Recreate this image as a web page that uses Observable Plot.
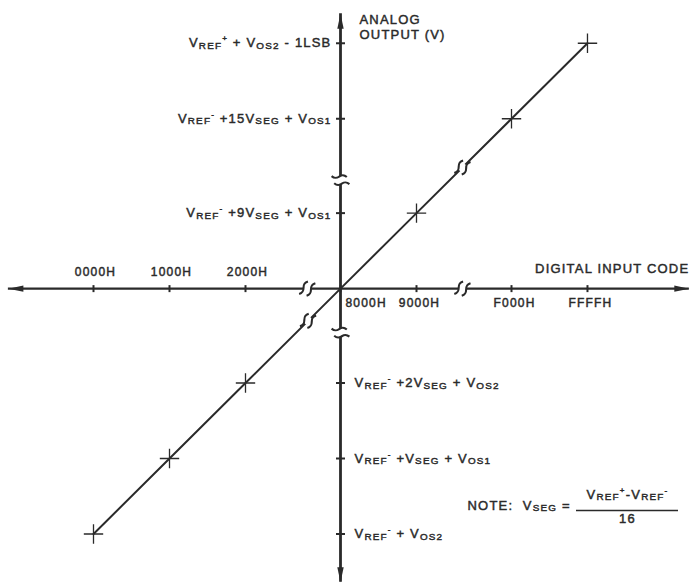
<!DOCTYPE html>
<html>
<head>
<meta charset="utf-8">
<script src="https://cdn.jsdelivr.net/npm/d3@7"></script>
<script src="https://cdn.jsdelivr.net/npm/@observablehq/plot@0.6"></script>
<style>
  html, body { margin: 0; padding: 0; background: #fff; }
  #chart svg { display: block; }
  #chart svg text { letter-spacing: 1.2px; stroke: #2a2a2a; stroke-width: 0.45px; }
</style>
</head>
<body>
<div id="chart"></div>
<script>
// Digital input codes and the analog output they produce,
// counted in V_SEG steps above V_REF- (FFFFH sits one LSB below 16 steps).
const codeLabels  = ["0000H", "1000H", "2000H", "8000H", "9000H", "F000H", "FFFFH"];
const codeValues  = [0x0000, 0x1000, 0x2000, 0x8000, 0x9000, 0xF000, 0xFFFF];
const outputSteps = [0, 1, 2, 8, 9, 15, 16 - 1 / 4096];

// Output levels called out on the vertical axis
const levelSteps  = [0, 1, 2, 9, 15, 16 - 1 / 4096];
const levelLabels = [
  "V_{REF}^{-} + V_{OS2}",
  "V_{REF}^{-} +V_{SEG} + V_{OS1}",
  "V_{REF}^{-} +2V_{SEG} + V_{OS2}",
  "V_{REF}^{-} +9V_{SEG} + V_{OS1}",
  "V_{REF}^{-} +15V_{SEG} + V_{OS1}",
  "V_{REF}^{+} + V_{OS2} - 1LSB"
];

// The axes cross at code 8000H, output V_REF- + 8 V_SEG
const crossing = 8;
// Where the axis and line break symbols sit (in steps)
const axisBreaksX = [5.9, 11.9];
const axisBreaksY = [5.2, 11.1];
const lineBreaks  = [5.95, 11.9];
// Axis extents (arrow tips)
const xEnds = [-1.12, 17.34];
const yEnds = [-0.64, 16.39];

const ink = "#2a2a2a";
const font = "'Liberation Sans', Arial, Helvetica, sans-serif";

// Broken scales: the spans 2..8 and 9..15 are squeezed to 1.25 steps each
const gap = 1.25;
const stops = [0, 2, 8, 9, 15, 16];
const span = [0, 2, 2 + gap, 3 + gap, 3 + 2 * gap, 4 + 2 * gap];
const unitX = 76, unitY = 75.5, originX = 93, originY = 533.5;

const series = codeValues.map((c, i) => ({code: codeLabels[i], step: c / 0x1000, out: outputSteps[i]}));
const levels = levelSteps.map((s, i) => ({step: s, label: levelLabels[i]}));

// Symbols drawn with a rotation (radians)
function rotor(angle) {
  const c = Math.cos(angle), s = Math.sin(angle);
  return (u, v) => [u * c - v * s, u * s + v * c];
}
const arrowHead = angle => ({
  draw(ctx) {
    const p = rotor(angle);
    ctx.moveTo(...p(0, 0));
    ctx.lineTo(...p(-15, 3.2));
    ctx.lineTo(...p(-15, -3.2));
    ctx.closePath();
  }
});
const breakMark = angle => ({
  draw(ctx) {
    const p = rotor(angle);
    for (const o of [-3.8, 3.8]) {
      ctx.moveTo(...p(o - 3, 7));
      ctx.bezierCurveTo(...p(o + 5, 2.5), ...p(o - 5, -2.5), ...p(o + 3, -7));
    }
  }
});
const tickMark = vertical => ({
  draw(ctx) {
    if (vertical) { ctx.moveTo(0, -3.5); ctx.lineTo(0, 3.5); }
    else { ctx.moveTo(-4.5, 0); ctx.lineTo(4.5, 0); }
  }
});

const deg = Math.PI / 180;

const chart = Plot.plot({
  width: 691,
  height: 587,
  margin: 0,
  x: {type: "linear", domain: stops, range: span.map(s => originX + s * unitX), axis: null},
  y: {type: "linear", domain: stops, range: span.map(s => originY - s * unitY), axis: null},
  style: {fontFamily: font, background: "#fff", color: ink, overflow: "visible"},
  marks: [
    // axes
    Plot.ruleY([crossing], {x1: xEnds[0], x2: xEnds[1], stroke: ink, strokeWidth: 2.3}),
    Plot.ruleX([crossing], {y1: yEnds[0], y2: yEnds[1], stroke: ink, strokeWidth: 2.8}),
    // transfer line
    Plot.line(series, {x: "step", y: "out", stroke: ink, strokeWidth: 2}),
    // breaks: a white gap, then the S strokes
    Plot.dot(axisBreaksX, {x: d => d, y: crossing, r: 4, fill: "#fff"}),
    Plot.dot(axisBreaksY, {x: crossing, y: d => d, r: 4, fill: "#fff"}),
    Plot.dot(lineBreaks, {x: d => d, y: d => d, r: 4, fill: "#fff"}),
    Plot.dot(axisBreaksX, {x: d => d, y: crossing, symbol: breakMark(12 * deg), fill: "none", stroke: ink, strokeWidth: 2.1}),
    Plot.dot(axisBreaksY, {x: crossing, y: d => d, symbol: breakMark(70 * deg), fill: "none", stroke: ink, strokeWidth: 2.1}),
    Plot.dot(lineBreaks, {x: d => d, y: d => d, symbol: breakMark(12 * deg), fill: "none", stroke: ink, strokeWidth: 2.1}),
    // axis ticks
    Plot.dot(series, {x: "step", y: crossing, symbol: tickMark(true), fill: "none", stroke: ink, strokeWidth: 2}),
    Plot.dot(levels, {x: crossing, y: "step", symbol: tickMark(false), fill: "none", stroke: ink, strokeWidth: 2}),
    // code markers along the line
    Plot.dot(series.filter(d => d.code !== "8000H"), {x: "step", y: "out", symbol: "plus", r: 6.3, stroke: ink, strokeWidth: 1.3}),
    // arrowheads
    Plot.dot([xEnds[0]], {x: d => d, y: crossing, symbol: arrowHead(180 * deg), fill: ink}),
    Plot.dot([xEnds[1]], {x: d => d, y: crossing, symbol: arrowHead(0), fill: ink}),
    Plot.dot([yEnds[0]], {x: crossing, y: d => d, symbol: arrowHead(90 * deg), fill: ink}),
    Plot.dot([yEnds[1]], {x: crossing, y: d => d, symbol: arrowHead(-90 * deg), fill: ink}),
    // code labels
    Plot.text(series.filter(d => d.step < crossing), {x: "step", y: crossing, text: "code", dx: 2, dy: -16, fontSize: 12, fill: ink}),
    Plot.text(series.filter(d => d.step === crossing), {x: "step", y: crossing, text: "code", textAnchor: "start", dx: 5, dy: 15, fontSize: 12, fill: ink}),
    Plot.text(series.filter(d => d.step > crossing), {x: "step", y: crossing, text: "code", dx: 3, dy: 15, fontSize: 12, fill: ink}),
    // level labels
    Plot.text(levels.filter(d => d.step > crossing), {x: crossing, y: "step", text: "label", textAnchor: "end", dx: -9, fontSize: 13, fill: ink}),
    Plot.text(levels.filter(d => d.step < crossing), {x: crossing, y: "step", text: "label", textAnchor: "start", dx: 14, fontSize: 13, fill: ink}),
    // axis titles
    Plot.text(["ANALOG\nOUTPUT (V)"], {x: crossing, y: yEnds[1], text: d => d, textAnchor: "start", lineAnchor: "top", lineHeight: 1.15, dx: 19, dy: 0, fontSize: 13, fill: ink}),
    Plot.text(["DIGITAL INPUT CODE"], {x: xEnds[1], y: crossing, text: d => d, textAnchor: "end", dy: -20, fontSize: 13, fill: ink}),
    // note defining V_SEG
    Plot.text(["NOTE:  V_{SEG} ="], {frameAnchor: "bottom-right", text: d => d, textAnchor: "start", dx: -224, dy: -78, fontSize: 13, fill: ink}),
    Plot.text(["V_{REF}^{+}-V_{REF}^{-}"], {frameAnchor: "bottom-right", text: d => d, textAnchor: "middle", dx: -64, dy: -89, fontSize: 13, fill: ink}),
    Plot.ruleY([0], {dy: -23.5, insetLeft: 576, insetRight: 13, stroke: ink, strokeWidth: 1.3}),
    Plot.text(["16"], {frameAnchor: "bottom-right", text: d => d, textAnchor: "middle", dx: -64, dy: -65, fontSize: 13, fill: ink})
  ]
});

// Turn _{...} and ^{...} markup into subscript / superscript tspans
const SVGNS = "http://www.w3.org/2000/svg";
function richText(node) {
  const raw = node.textContent;
  if (!/[_^]\{/.test(raw)) return;
  node.textContent = "";
  let shift = 0;
  for (const m of raw.matchAll(/([_^])\{([^}]*)\}|([^_^]+)/g)) {
    const t = document.createElementNS(SVGNS, "tspan");
    let target = 0;
    if (m[1] === "_") { target = 1.5; t.setAttribute("font-size", "76%"); }
    else if (m[1] === "^") { target = -6; t.setAttribute("font-size", "62%"); }
    t.setAttribute("dy", target - shift);
    shift = target;
    t.textContent = m[1] ? m[2] : m[3];
    node.appendChild(t);
  }
}
chart.querySelectorAll("text").forEach(richText);

document.getElementById("chart").appendChild(chart);
</script>
</body>
</html>
